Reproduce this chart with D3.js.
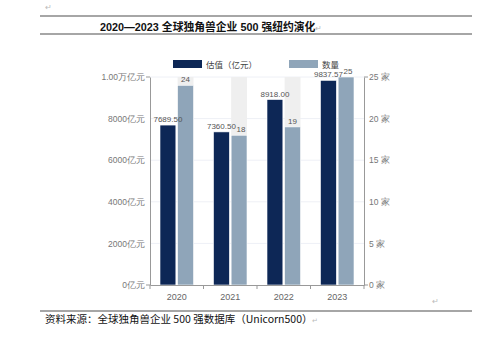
<!DOCTYPE html>
<html><head><meta charset="utf-8">
<script src="https://cdn.jsdelivr.net/npm/d3@7"></script>
<style>
body{margin:0;background:#fff;}
svg{display:block;font-family:"Liberation Sans","Noto Sans CJK SC",Arial,sans-serif;}
</style></head>
<body><svg id="c" width="490" height="350"></svg>
<script>
const years = ["2020","2021","2022","2023"];
const valuation = [7689.50, 7360.50, 8918.00, 9837.57];
const counts = [24, 18, 19, 25];
const leftTicks = [0, 2000, 4000, 6000, 8000, 10000];
const rightTicks = [0, 5, 10, 15, 20, 25];
const seriesNames = ["估值（亿元）", "数量"];
const titleText = "2020—2023 全球独角兽企业 500 强纽约演化";
const sourceText = "资料来源：全球独角兽企业 500 强数据库（Unicorn500）";

const svg = d3.select("#c");
const dark = "#0d2756", light = "#8fa5b9", bg = "#efefef";
const L = 150, R = 364, T = 77, B = 285;

// document-like lines
svg.append("text").attr("x",45).attr("y",10).attr("font-size",8).attr("fill","#bbb").text("↵");
[16,34,311].forEach(y=>svg.append("line").attr("x1",40).attr("x2",472).attr("y1",y).attr("y2",y).attr("stroke","#888").attr("stroke-width",1.3));
svg.append("text").attr("x",100).attr("y",31).attr("font-size",10.8).attr("font-weight","bold")
  .attr("font-family","'Liberation Sans','Noto Sans CJK SC',sans-serif").attr("fill","#111").text(titleText)
  .append("tspan").attr("font-size",8).attr("font-weight","normal").attr("fill","#bbb").text("↵");
svg.append("text").attr("x",45).attr("y",323).attr("font-size",10.5)
  .attr("font-family","'Noto Sans CJK SC',sans-serif").attr("fill","#111").text(sourceText)
  .append("tspan").attr("font-size",7).attr("fill","#bbb").text("↵");
svg.append("text").attr("x",432).attr("y",304).attr("font-size",8).attr("fill","#bbb").text("↵");

const x0 = d3.scaleBand().domain(years).range([L,R]);
const x1 = d3.scaleBand().domain([0,1]).range([10,43.5]).paddingInner(0.1);
const yL = d3.scaleLinear().domain([0,10000]).range([B,T]);
const yR = d3.scaleLinear().domain([0,25]).range([B,T]);

// gridlines
svg.append("g").selectAll("line").data(leftTicks.slice(1)).join("line")
  .attr("x1",L).attr("x2",R).attr("y1",d=>yL(d)).attr("y2",d=>yL(d)).attr("stroke","#eef0f6");

// backgrounds for count bars
svg.append("g").selectAll("rect").data(years).join("rect")
  .attr("x",d=>x0(d)+x1(1)).attr("width",x1.bandwidth()).attr("y",T).attr("height",B-T).attr("fill",bg);

// valuation bars
svg.append("g").selectAll("rect").data(valuation).join("rect")
  .attr("x",(d,i)=>x0(years[i])+x1(0)).attr("width",x1.bandwidth())
  .attr("y",d=>yL(d)).attr("height",d=>B-yL(d)).attr("fill",dark).attr("stroke","#fff").attr("stroke-width",0.6);
// count bars
svg.append("g").selectAll("rect").data(counts).join("rect")
  .attr("x",(d,i)=>x0(years[i])+x1(1)).attr("width",x1.bandwidth())
  .attr("y",d=>yR(d)).attr("height",d=>B-yR(d)).attr("fill",light).attr("stroke","#fff").attr("stroke-width",0.6);

// value labels
const lab = svg.append("g").attr("font-size",8).attr("fill","#555").attr("text-anchor","middle");
lab.selectAll(".v").data(valuation).join("text").attr("class","v")
  .attr("x",(d,i)=>x0(years[i])+x1(0)+x1.bandwidth()/2).attr("y",d=>yL(d)-3).text(d=>d3.format(".2f")(d));
lab.selectAll(".n").data(counts).join("text").attr("class","n")
  .attr("x",(d,i)=>x0(years[i])+x1(1)+x1.bandwidth()/2+(i===1||i===3?2:0)).attr("y",d=>yR(d)-3).text(d=>d);

// axes
const axCol = "#999";
const gx = svg.append("g").attr("transform",`translate(0,${B})`)
  .call(d3.axisBottom(x0).tickSize(0).tickPadding(9));
gx.select(".domain").attr("stroke",axCol);
gx.selectAll("text").attr("font-size",9).attr("fill","#666").attr("font-family","'Liberation Sans',Arial,sans-serif");
gx.selectAll(".sep").data(years.concat(["end"])).join("line")
  .attr("x1",(d,i)=>L+i*x0.step()).attr("x2",(d,i)=>L+i*x0.step()).attr("y1",0).attr("y2",4).attr("stroke",axCol);

const gl = svg.append("g").attr("transform",`translate(${L},0)`)
  .call(d3.axisLeft(yL).tickValues(leftTicks).tickSize(0).tickPadding(5)
  .tickFormat(d=>d>=10000?d3.format(".2f")(d/10000)+"万亿元":d+"亿元"));
gl.select(".domain").attr("stroke",axCol);
gl.selectAll("text").attr("font-size",8.5).attr("fill","#777");
[0,10000].forEach(v=>gl.append("line").attr("x1",-4).attr("x2",0).attr("y1",yL(v)).attr("y2",yL(v)).attr("stroke",axCol));

const gr = svg.append("g").attr("transform",`translate(${R},0)`)
  .call(d3.axisRight(yR).tickValues(rightTicks).tickSize(0).tickPadding(5).tickFormat(d=>d+" 家"));
gr.select(".domain").attr("stroke",axCol);
gr.selectAll("text").attr("font-size",8.5).attr("fill","#777");
[0,25].forEach(v=>gr.append("line").attr("x1",0).attr("x2",4).attr("y1",yR(v)).attr("y2",yR(v)).attr("stroke",axCol));

// legend
const lg = svg.append("g").attr("font-size",8.5).attr("fill","#444").attr("font-family","'Noto Sans CJK SC',sans-serif");
const lx = [173, 289];
seriesNames.forEach((s,i)=>{
  lg.append("rect").attr("x",lx[i]).attr("y",60).attr("width",29).attr("height",8).attr("fill",i?light:dark);
  lg.append("text").attr("x",lx[i]+33).attr("y",67.5).text(s);
});
</script></body></html>
